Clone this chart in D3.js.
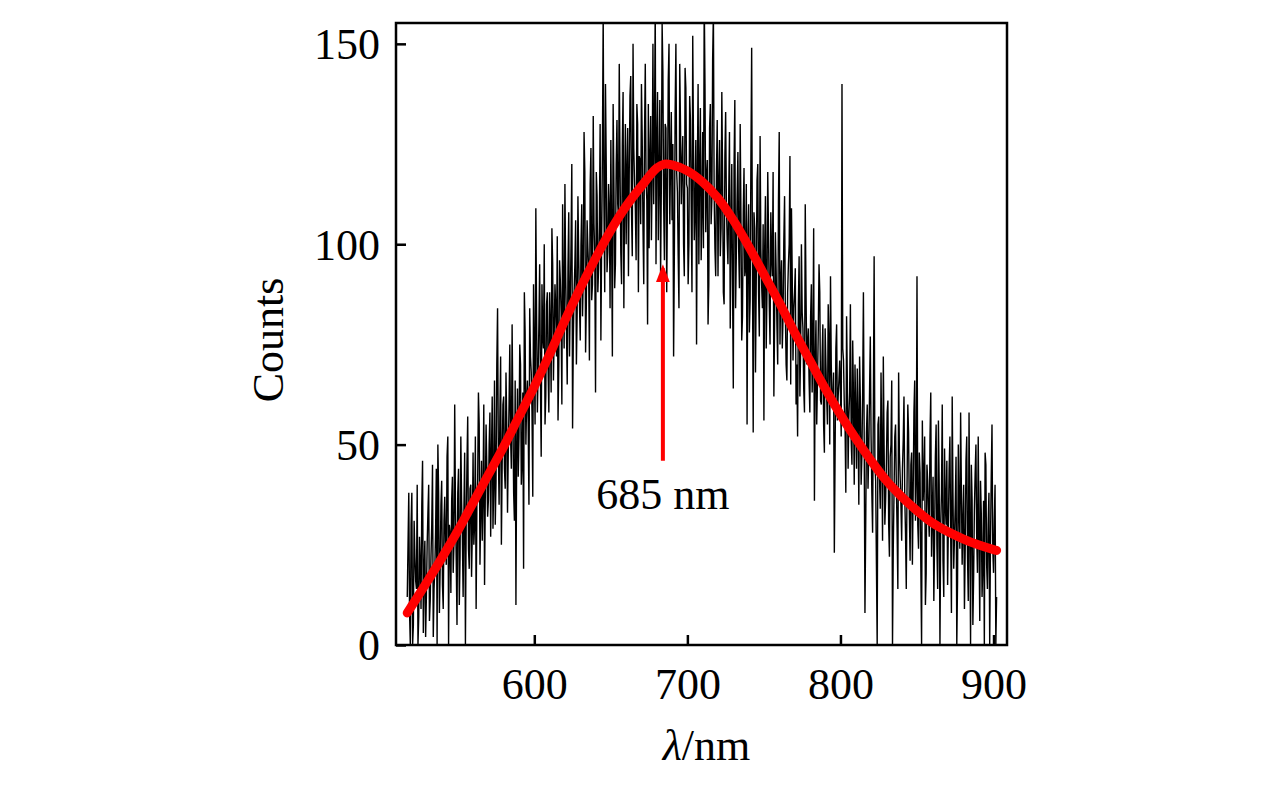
<!DOCTYPE html>
<html>
<head>
<meta charset="utf-8">
<script src="https://cdn.jsdelivr.net/npm/d3@7"></script>
<style>
  body { margin: 0; background: #fff; }
  svg { display: block; }
  text { font-family: "Liberation Serif", "Times New Roman", serif; fill: #000; }
</style>
</head>
<body>
<div id="chart"></div>
<script>
// measured spectrum: counts at whole nm (517, 518, ...) and at the half nm in between (517.5, 518.5, ...)
const noiseStart = 517;
const noiseCounts = [
  12, 38, 0,
  38, 5, 22, 14, 0, 27, 9, 46, 18, 2,
  25, 40, 11, 30, 2, 19, 44, 50, 8, 35,
  15, 31, 24, 47, 0, 28, 36, 18, 60, 21,
  38, 10, 52, 27, 33, 0, 45, 24, 39, 17,
  48, 30, 9, 41, 55, 33, 26, 60, 38, 44,
  36, 58, 47, 29, 66, 41, 84, 35, 72, 45,
  62, 39, 55, 48, 75, 44, 58, 31, 10, 64,
  52, 70, 46, 19, 78, 61, 55, 84, 68, 37,
  72, 109, 58, 80, 66, 90, 74, 55, 85, 69,
  88, 63, 95, 78, 84, 102, 70, 91, 60, 86,
  115, 79, 94, 72, 100, 54, 88, 106, 83, 97,
  76, 110, 92, 118, 85, 99, 71, 124, 90, 105,
  63, 112, 94, 130, 101, 158, 88, 120, 98, 109,
  126, 72, 115, 95, 131, 107, 119, 90, 138, 112,
  100, 129, 117, 142, 97, 124, 109, 135, 88, 121,
  140, 104, 127, 116, 80, 99, 132, 118, 110, 160,
  125, 101, 136, 115, 143, 96, 129, 112, 150, 120,
  106, 72, 133, 118, 97, 145, 110, 127, 92, 139,
  114, 100, 131, 88, 124, 109, 75, 140, 119, 96,
  128, 162, 103, 121, 90, 135, 111, 158, 99, 118,
  92, 126, 104, 117, 85, 133, 101, 112, 79, 120,
  64, 136, 98, 123, 89, 107, 82, 119, 94, 55,
  110, 86, 149, 53, 104, 91, 120, 77, 99, 84,
  56, 112, 88, 103, 75, 97, 118, 81, 93, 70,
  128, 90, 74, 101, 83, 66, 95, 122, 109, 71,
  88, 60, 52, 97, 74, 83, 64, 110, 70, 79,
  58, 90, 74, 36, 81, 66, 95, 61, 72, 55,
  79, 62, 85, 50, 70, 59, 23, 74, 56, 66,
  63, 140, 71, 55, 82, 44, 63, 51, 76, 40,
  58, 69, 35, 61, 47, 88, 8, 53, 39, 63,
  52, 28, 97, 41, 0, 57, 34, 49, 72, 30,
  45, 61, 22, 50, 0, 38, 55, 29, 68, 42,
  26, 51, 37, 14, 60, 33, 45, 20, 58, 31,
  92, 24, 43, 0, 36, 52, 18, 41, 27, 63,
  33, 11, 47, 25, 56, 0, 38, 21, 49, 30,
  15, 44, 28, 62, 19, 35, 0, 50, 24, 39,
  31, 9, 46, 22, 58, 0, 36, 17, 43, 27,
  52, 6, 33, 20, 0, 45, 14, 38, 25, 55,
  18, 40, 12
];
const noiseHalfCounts = [
  25, 8, 30,
  0, 31, 16, 40, 7, 20, 35, 3, 26, 12,
  33, 6, 22, 45, 14, 28, 0, 38, 19, 41,
  9, 37, 20, 52, 30, 13, 42, 25, 34, 5,
  44, 22, 36, 12, 48, 30, 57, 19, 40, 28,
  25, 52, 35, 63, 20, 46, 38, 15, 55, 32,
  50, 27, 62, 40, 30, 70, 48, 57, 25, 60,
  44, 68, 33, 60, 52, 80, 38, 66, 49, 42,
  75, 40, 63, 88, 50, 66, 35, 72, 58, 90,
  55, 82, 68, 95, 47, 77, 100, 62, 88, 58,
  79, 104, 66, 90, 72, 56, 96, 83, 110, 74,
  92, 65, 108, 86, 120, 77, 95, 70, 112, 85,
  100, 82, 128, 73, 106, 94, 115, 86, 132, 97,
  118, 88, 105, 76, 123, 110, 140, 93, 115, 84,
  102, 135, 89, 120, 110, 145, 98, 125, 84, 130,
  118, 92, 137, 108, 150, 115, 96, 130, 122, 105,
  126, 90, 145, 111, 135, 122, 101, 150, 128, 95,
  138, 117, 92, 155, 110, 130, 88, 141, 105, 133,
  125, 98, 150, 113, 84, 130, 120, 100, 144, 115,
  90, 137, 110, 152, 101, 126, 118, 95, 134, 108,
  99, 140, 117, 80, 129, 105, 146, 112, 92, 131,
  115, 97, 138, 88, 122, 110, 95, 128, 103, 90,
  120, 84, 112, 99, 130, 76, 108, 92, 115, 101,
  78, 121, 95, 108, 68, 116, 88, 127, 90, 105,
  99, 74, 118, 85, 108, 92, 62, 103, 80, 111,
  75, 96, 82, 112, 70, 88, 100, 65, 92, 84,
  94, 70, 85, 62, 100, 79, 58, 88, 75, 66,
  82, 63, 104, 70, 55, 78, 88, 60, 80, 48,
  70, 55, 76, 92, 60, 68, 48, 80, 62, 71,
  52, 74, 60, 38, 66, 57, 85, 45, 62, 70,
  44, 56, 72, 40, 63, 52, 30, 60, 48, 77,
  38, 60, 45, 20, 55, 42, 68, 26, 50, 36,
  58, 30, 47, 66, 24, 52, 40, 14, 48, 35,
  44, 62, 28, 40, 53, 21, 48, 38, 66, 40,
  30, 48, 20, 56, 41, 10, 45, 33, 52, 22,
  42, 26, 55, 14, 40, 30, 60, 12, 35, 46,
  30, 52, 8, 38, 27, 47, 16, 33, 58, 20,
  40, 24, 52, 11, 30, 45, 5, 34, 50, 18,
  28, 41, 12, 36, 48, 20, 30, 0, 42, 24,
  31, 0
];

// fitted curve
const fitWavelengths = [517, 520, 530, 540, 550, 560, 570, 580, 590, 600, 610, 620, 630, 640, 650, 660, 670, 680, 685, 690, 700, 710, 720, 730, 740, 750, 760, 770, 780, 790, 800, 810, 820, 830, 840, 850, 860, 870, 880, 890, 900, 902];
const fitCounts = [8, 9.8, 15.8, 22, 28.5, 35.5, 42.5, 49.5, 57, 64.5, 72.5, 81, 89, 96.5, 103.5, 109.5, 114.5, 119, 120, 119.8, 118.3, 115.5, 111.5, 106, 99.5, 92.5, 85.5, 78, 71, 64, 57.5, 51.5, 46, 41, 37, 33.5, 30.5, 28.3, 26.5, 25, 23.8, 23.6];

const xTicks = [600, 700, 800, 900];
const yTicks = [0, 50, 100, 150];

// peak annotation: wavelength, arrow tip/tail counts, label
const peakNote = { wavelength: 684, tip: 94, tail: 46, labelY: 34, label: '685 nm' };

const W = 1276, H = 787;
const plot = { left: 396, right: 1007, top: 23, bottom: 645 };

const svg = d3.select('#chart').append('svg')
    .attr('width', W)
    .attr('height', H);

const x = d3.scaleLinear().domain([509.65, 908.8]).range([plot.left, plot.right]);
const y = d3.scaleLinear().domain([0, 155.2]).range([plot.bottom, plot.top]);

const noiseData = [];
noiseCounts.forEach((c, i) => {
    noiseData.push({ w: noiseStart + i, c: c });
    if (i < noiseHalfCounts.length) noiseData.push({ w: noiseStart + i + 0.5, c: noiseHalfCounts[i] });
});
const fitData = fitWavelengths.map((w, i) => ({ w: w, c: fitCounts[i] }));

svg.append('clipPath')
    .attr('id', 'plot-clip')
    .append('rect')
    .attr('x', plot.left)
    .attr('y', plot.top)
    .attr('width', plot.right - plot.left)
    .attr('height', plot.bottom - plot.top);

const g = svg.append('g').attr('clip-path', 'url(#plot-clip)');

g.append('path')
    .datum(noiseData)
    .attr('fill', 'none')
    .attr('stroke', '#000')
    .attr('stroke-width', 1.4)
    .attr('d', d3.line().x(d => x(d.w)).y(d => y(d.c)));

g.append('path')
    .datum(fitData)
    .attr('fill', 'none')
    .attr('stroke', '#ff0000')
    .attr('stroke-width', 9)
    .attr('stroke-linecap', 'round')
    .attr('d', d3.line().x(d => x(d.w)).y(d => y(d.c)).curve(d3.curveCatmullRom.alpha(0.5)));

// frame
svg.append('rect')
    .attr('x', plot.left)
    .attr('y', plot.top)
    .attr('width', plot.right - plot.left)
    .attr('height', plot.bottom - plot.top)
    .attr('fill', 'none')
    .attr('stroke', '#000')
    .attr('stroke-width', 2.5);

// axes, ticks pointing inward
const xAxis = svg.append('g')
    .attr('transform', `translate(0,${plot.bottom})`)
    .call(d3.axisBottom(x).tickValues(xTicks).tickSizeInner(-10).tickSizeOuter(0).tickPadding(22));
const yAxis = svg.append('g')
    .attr('transform', `translate(${plot.left},0)`)
    .call(d3.axisLeft(y).tickValues(yTicks).tickSizeInner(-10).tickSizeOuter(0).tickPadding(16));

[xAxis, yAxis].forEach(a => {
    a.select('.domain').remove();
    a.selectAll('.tick line').attr('stroke', '#000').attr('stroke-width', 2.5);
    a.selectAll('.tick text')
        .style('font-family', '"Liberation Serif", serif')
        .style('font-size', '44px')
        .attr('fill', '#000');
});
xAxis.selectAll('.tick text').attr('dy', '0.72em');
yAxis.selectAll('.tick text').attr('dy', '0.34em');

// axis titles
const xt = svg.append('text')
    .attr('x', (plot.left + plot.right) / 2 + 5)
    .attr('y', 760)
    .attr('text-anchor', 'middle')
    .style('font-size', '44px');
xt.append('tspan').style('font-style', 'italic').text('λ');
xt.append('tspan').text('/nm');

svg.append('text')
    .attr('transform', 'translate(283,340) rotate(-90)')
    .attr('text-anchor', 'middle')
    .style('font-size', '44px')
    .text('Counts');

// peak arrow
svg.append('defs').append('marker')
    .attr('id', 'head')
    .attr('viewBox', '0 0 18 14')
    .attr('refX', 14)
    .attr('refY', 7)
    .attr('markerWidth', 4.5)
    .attr('markerHeight', 3.5)
    .attr('orient', 'auto')
    .append('path')
    .attr('d', 'M0,0 L18,7 L0,14 Z')
    .attr('fill', '#ff0000');

svg.append('line')
    .attr('x1', x(peakNote.wavelength))
    .attr('x2', x(peakNote.wavelength))
    .attr('y1', y(peakNote.tail))
    .attr('y2', y(peakNote.tip))
    .attr('stroke', '#ff0000')
    .attr('stroke-width', 4)
    .attr('marker-end', 'url(#head)');

svg.append('text')
    .attr('x', x(peakNote.wavelength))
    .attr('y', y(peakNote.labelY))
    .attr('text-anchor', 'middle')
    .style('font-size', '44px')
    .text(peakNote.label);
</script>
</body>
</html>
